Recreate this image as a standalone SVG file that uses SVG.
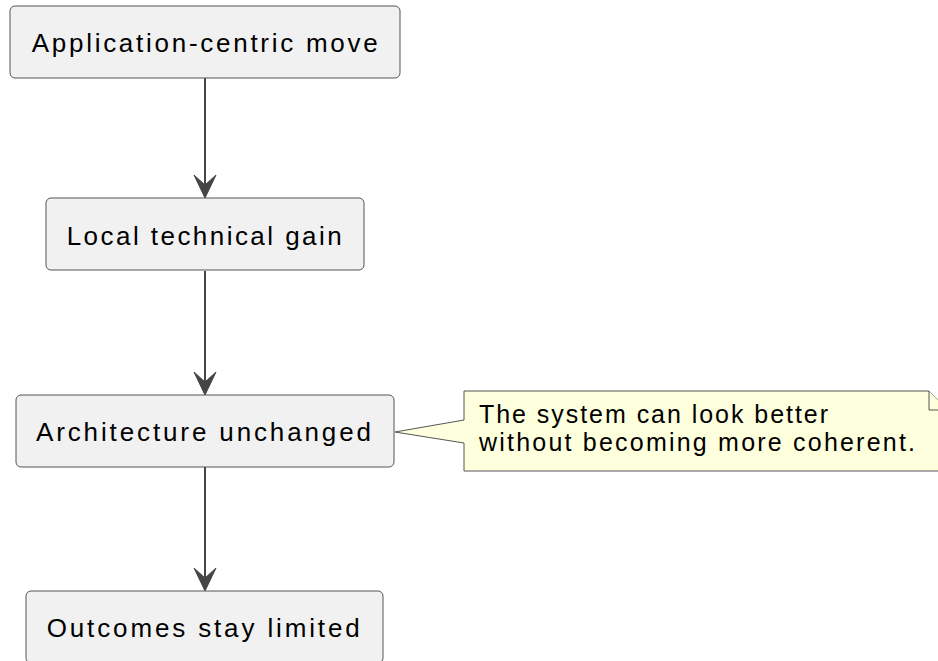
<svg xmlns="http://www.w3.org/2000/svg" width="938" height="661" viewBox="0 0 938 661">
<style>
.box{fill:#F1F1F1;stroke:#555555;stroke-width:1}
.lbl{font-family:"Liberation Sans",Arial,sans-serif;font-size:26px;fill:#000000}
.nt{font-family:"Liberation Sans",Arial,sans-serif;font-size:25px;fill:#000000}
.note{fill:#FEFFDD;stroke:#555555;stroke-width:1}
.edge{stroke:#454545;stroke-width:2;fill:none}
.head{fill:#454545;stroke:#454545;stroke-width:1}
</style>
<defs>
<polygon id="ah" points="-11,-23 0,0 11,-23 0,-13" class="head"/>
</defs>
<rect width="938" height="661" fill="#FFFFFF"/>
<g id="connectors">
<line class="edge" x1="205" y1="78" x2="205" y2="190"/>
<use href="#ah" x="205" y="198"/>
<line class="edge" x1="205" y1="271" x2="205" y2="388"/>
<use href="#ah" x="205" y="395"/>
<line class="edge" x1="205" y1="467" x2="205" y2="584"/>
<use href="#ah" x="205" y="591"/>
</g>
<g id="n1">
<rect class="box" x="10" y="6" width="390" height="72" rx="5"/>
<text class="lbl" x="31.7" y="51.5" textLength="346" lengthAdjust="spacing">Application-centric move</text>
</g>
<g id="n2">
<rect class="box" x="46" y="198" width="318" height="72" rx="5"/>
<text class="lbl" x="66.7" y="244.5" textLength="275" lengthAdjust="spacing">Local technical gain</text>
</g>
<g id="n3">
<rect class="box" x="16" y="395" width="378" height="72" rx="5"/>
<text class="lbl" x="36" y="441" textLength="335" lengthAdjust="spacing">Architecture unchanged</text>
</g>
<g id="n4">
<rect class="box" x="26" y="591" width="357" height="72" rx="5"/>
<text class="lbl" x="46.7" y="637" textLength="313" lengthAdjust="spacing">Outcomes stay limited</text>
</g>
<g id="note">
<path class="note" d="M464,391 L929,391 L948,410 L948,471 L464,471 L464,443 L395,432 L464,420 Z"/>
<path class="note" d="M929,391 L929,410 L948,410"/>
<text class="nt" x="479" y="423" textLength="349" lengthAdjust="spacing">The system can look better</text>
<text class="nt" x="479" y="451" textLength="436" lengthAdjust="spacing">without becoming more coherent.</text>
</g>
</svg>
